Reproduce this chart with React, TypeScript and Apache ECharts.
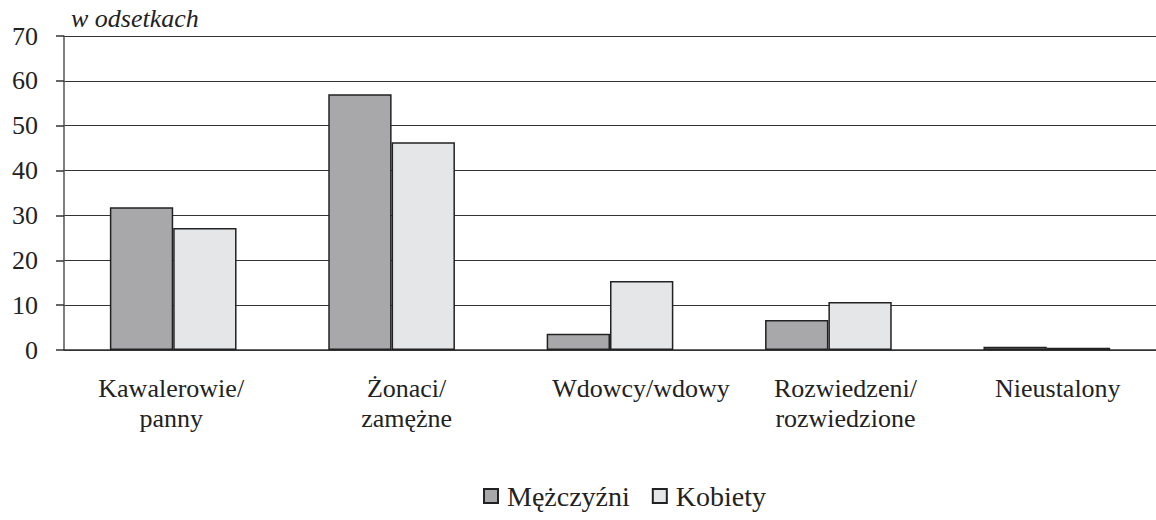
import React, { useEffect, useRef } from "react";
import * as echarts from "echarts";

const categories = ["Kawalerowie/\npanny", "Żonaci/\nzamężne", "Wdowcy/wdowy", "Rozwiedzeni/\nrozwiedzione", "Nieustalony"];
const men = [31.8, 57.0, 3.6, 6.7, 0.7];
const women = [27.2, 46.3, 15.4, 10.7, 0.5];
const seriesNames = ["Mężczyźni", "Kobiety"];
const yTicks = { min: 0, max: 70, interval: 10 };
const unitLabel = "w odsetkach";

const FONT = "Liberation Serif, Times New Roman, serif";

export default function App() {
  const ref = useRef<HTMLDivElement>(null);
  useEffect(() => {
    const chart = echarts.init(ref.current!, null, { renderer: "svg" });
    // horizontal nudges of the category labels (px), as in the reference layout
    const shifts = [-2, 15, 31, 17, 11];
    const xData = categories.map((c, i) => {
      const s = shifts[i];
      return {
        value: c,
        textStyle: { padding: s >= 0 ? [0, 0, 0, 2 * s] : [0, -2 * s, 0, 0] },
      };
    });
    chart.setOption({
      animation: false,
      backgroundColor: "#ffffff",
      textStyle: { fontFamily: FONT, color: "#222" },
      grid: { left: 64, right: 0, top: 36, bottom: 170, containLabel: false },
      graphic: [
        {
          type: "text",
          left: 71,
          top: 5,
          style: { text: unitLabel, fontFamily: FONT, fontStyle: "italic", fontSize: 26, fill: "#222" },
        },
      ],
      legend: {
        bottom: 5,
        left: 478,
        itemWidth: 14,
        itemHeight: 14,
        itemGap: 22,
        textStyle: { fontFamily: FONT, fontSize: 28, color: "#222", padding: [0, 0, 0, 4] },
        data: seriesNames.map((n) => ({ name: n, icon: "rect" })),
      },
      xAxis: {
        type: "category",
        data: xData,
        axisLine: { show: true, lineStyle: { color: "#333", width: 1.5 } },
        axisTick: { show: false },
        axisLabel: {
          fontFamily: FONT,
          fontSize: 26,
          color: "#222",
          margin: 23,
          lineHeight: 30,
          interval: 0,
        },
      },
      yAxis: {
        type: "value",
        min: yTicks.min,
        max: yTicks.max,
        interval: yTicks.interval,
        axisLine: { show: true, lineStyle: { color: "#555", width: 1.5 } },
        axisTick: { show: true, length: 8, lineStyle: { color: "#333", width: 1.5 } },
        splitLine: { show: true, lineStyle: { color: "#333", width: 1.2 } },
        axisLabel: { fontFamily: FONT, fontSize: 26, color: "#222", margin: 26 },
      },
      series: [
        {
          name: seriesNames[0],
          type: "bar",
          data: men,
          barGap: "0%",
          barCategoryGap: "42%",
          itemStyle: { color: "#a8a8aa", borderColor: "#222", borderWidth: 1.5 },
        },
        {
          name: seriesNames[1],
          type: "bar",
          data: women,
          itemStyle: { color: "#e5e6e8", borderColor: "#222", borderWidth: 1.5 },
        },
      ],
    });
    return () => chart.dispose();
  }, []);
  return <div ref={ref} style={{ width: 1156, height: 520, position: "absolute", left: 0, top: 0 }} />;
}
